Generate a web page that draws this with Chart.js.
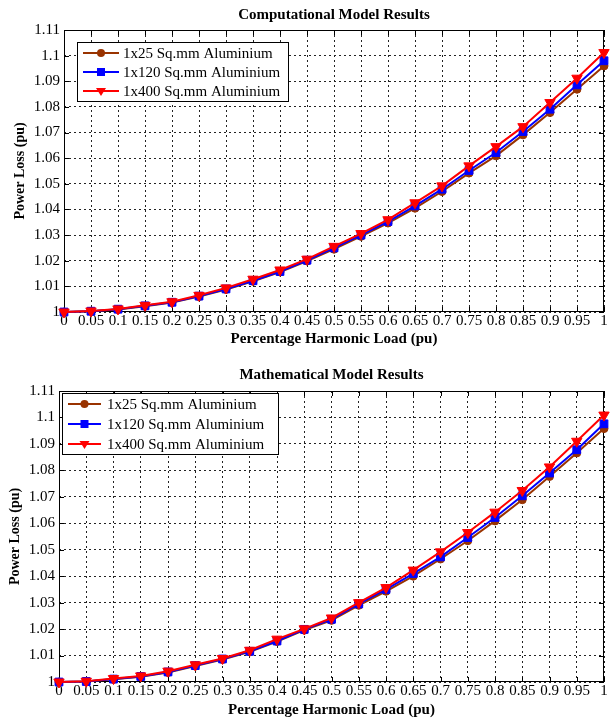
<!DOCTYPE html>
<html>
<head>
<meta charset="utf-8">
<script src="https://cdn.jsdelivr.net/npm/chart.js@4.4.0/dist/chart.umd.min.js"></script>
<style>
html, body { margin: 0; padding: 0; background: #fff; }
#wrap { position: relative; width: 611px; height: 719px; overflow: hidden; }
canvas { position: absolute; left: 0; }
</style>
</head>
<body>
<div id="wrap">
  <canvas id="compChart" width="611" height="352" style="top:0"></canvas>
  <canvas id="mathChart" width="611" height="359" style="top:360px"></canvas>
</div>
<script>
// x categories (harmonic load, pu)
const loadLabels = ['0', '0.05', '0.1', '0.15', '0.2', '0.25', '0.3', '0.35', '0.4', '0.45', '0.5',
                    '0.55', '0.6', '0.65', '0.7', '0.75', '0.8', '0.85', '0.9', '0.95', '1'];

const seriesNames = ['1x25 Sq.mm Aluminium', '1x120 Sq.mm Aluminium', '1x400 Sq.mm Aluminium'];

// Computational model results
const comp25  = [1.0000, 1.0003, 1.0010, 1.0022, 1.0037, 1.0060, 1.0088, 1.0120, 1.0156, 1.0199, 1.0245,
                 1.0295, 1.0347, 1.0405, 1.0470, 1.0542, 1.0609, 1.0691, 1.0778, 1.0869, 1.0960];
const comp120 = [1.0000, 1.0003, 1.0011, 1.0024, 1.0038, 1.0062, 1.0090, 1.0122, 1.0158, 1.0202, 1.0250,
                 1.0300, 1.0353, 1.0414, 1.0479, 1.0552, 1.0622, 1.0704, 1.0791, 1.0886, 1.0980];
const comp400 = [1.0000, 1.0004, 1.0012, 1.0026, 1.0040, 1.0065, 1.0094, 1.0128, 1.0164, 1.0206, 1.0256,
                 1.0306, 1.0360, 1.0426, 1.0492, 1.0570, 1.0645, 1.0723, 1.0817, 1.0912, 1.1012];

// Mathematical model results
const math25  = [1.0000, 1.0002, 1.0010, 1.0020, 1.0036, 1.0060, 1.0085, 1.0114, 1.0153, 1.0196, 1.0233,
                 1.0290, 1.0343, 1.0400, 1.0465, 1.0534, 1.0609, 1.0689, 1.0777, 1.0866, 1.0958];
const math120 = [1.0000, 1.0002, 1.0011, 1.0021, 1.0038, 1.0062, 1.0087, 1.0116, 1.0155, 1.0199, 1.0237,
                 1.0295, 1.0350, 1.0410, 1.0473, 1.0546, 1.0622, 1.0704, 1.0790, 1.0878, 1.0976];
const math400 = [1.0000, 1.0003, 1.0013, 1.0023, 1.0041, 1.0065, 1.0089, 1.0120, 1.0162, 1.0201, 1.0242,
                 1.0300, 1.0357, 1.0423, 1.0492, 1.0565, 1.0642, 1.0724, 1.0813, 1.0910, 1.1009];

const yMin = 1, yMax = 1.11, yStep = 0.01;

const FONT = "'Liberation Serif', 'Times New Roman', serif";
const colors = ['rgb(153,51,0)', 'rgb(0,0,255)', 'rgb(255,0,0)'];
const styles = ['circle', 'rect', 'triangle'];
const radii = [4, 5.5, 6];

// title, frame with inner ticks, and legend box
const decorPlugin = {
  id: 'decor',
  beforeDatasetsDraw(chart) {
    const { ctx, chartArea: a, scales } = chart;
    ctx.save();
    ctx.strokeStyle = '#000';
    ctx.lineWidth = 1;
    ctx.strokeRect(a.left + 0.5, a.top + 0.5, a.right - a.left - 1, a.bottom - a.top - 1);
    ctx.beginPath();
    scales.x.ticks.forEach((t, i) => {
      const px = Math.round(scales.x.getPixelForTick(i)) + 0.5;
      ctx.moveTo(px, a.bottom); ctx.lineTo(px, a.bottom - 5);
      ctx.moveTo(px, a.top); ctx.lineTo(px, a.top + 5);
    });
    scales.y.ticks.forEach(t => {
      const py = Math.round(scales.y.getPixelForValue(t.value)) + 0.5;
      ctx.moveTo(a.left, py); ctx.lineTo(a.left + 5, py);
      ctx.moveTo(a.right, py); ctx.lineTo(a.right - 5, py);
    });
    ctx.stroke();
    ctx.restore();
  },
  afterDatasetsDraw(chart, args, o) {
    const { ctx, chartArea: a } = chart;
    ctx.save();
    // chart title
    ctx.fillStyle = '#000';
    ctx.font = 'bold 15px ' + FONT;
    ctx.textAlign = 'center';
    ctx.textBaseline = 'middle';
    ctx.fillText(o.title, (a.left + a.right) / 2, a.top - o.titleGap);

    // legend
    const bx = a.left + o.lx, by = a.top + o.ly;
    ctx.fillStyle = '#fff';
    ctx.fillRect(bx, by, o.lw, o.lh);
    ctx.strokeStyle = '#000';
    ctx.lineWidth = 1;
    ctx.strokeRect(bx + 0.5, by + 0.5, o.lw, o.lh);
    chart.data.datasets.forEach((ds, i) => {
      const y = by + o.rowTop + i * o.rowGap;
      const x0 = bx + o.lineStart, x1 = x0 + o.lineLen, xm = (x0 + x1) / 2;
      ctx.strokeStyle = ds.borderColor;
      ctx.fillStyle = ds.borderColor;
      ctx.lineWidth = 2;
      ctx.beginPath(); ctx.moveTo(x0, y); ctx.lineTo(x1, y); ctx.stroke();
      ctx.beginPath();
      if (ds.pointStyle === 'circle') {
        ctx.arc(xm, y, 4, 0, Math.PI * 2);
      } else if (ds.pointStyle === 'rect') {
        ctx.rect(xm - 4, y - 4, 8, 8);
      } else {
        ctx.moveTo(xm - 5, y - 3); ctx.lineTo(xm + 5, y - 3); ctx.lineTo(xm, y + 5); ctx.closePath();
      }
      ctx.fill();
      ctx.fillStyle = '#000';
      ctx.font = '15px ' + FONT;
      ctx.textAlign = 'left';
      ctx.textBaseline = 'middle';
      ctx.fillText(ds.label, x1 + o.textGap, y + 1);
    });
    ctx.restore();
  }
};

function buildChart(id, series, lay) {
  const datasets = series.map((vals, i) => ({
    label: seriesNames[i],
    data: vals,
    borderColor: colors[i],
    backgroundColor: colors[i],
    borderWidth: 2,
    pointStyle: styles[i],
    pointRadius: radii[i],
    pointRotation: i === 2 ? 180 : 0,
    pointBorderWidth: 1,
    order: 3 - i,
    clip: false,
    tension: 0
  }));

  return new Chart(document.getElementById(id), {
    type: 'line',
    data: { labels: loadLabels, datasets: datasets },
    options: {
      responsive: false,
      animation: false,
      layout: { padding: { top: lay.top, right: lay.right, left: 0, bottom: 0 } },
      plugins: {
        legend: { display: false },
        tooltip: { enabled: false },
        decor: lay.decor
      },
      scales: {
        x: {
          type: 'category',
          offset: false,
          afterFit: s => { s.height = lay.xh; },
          grid: { color: '#222', lineWidth: 1, drawTicks: false },
          border: { display: false, dash: [2, 3] },
          ticks: { color: '#000', autoSkip: false, maxRotation: 0, padding: lay.xPad,
                   font: { family: FONT, size: 15 } },
          title: { display: true, text: 'Percentage Harmonic Load (pu)', color: '#000',
                   font: { family: FONT, size: 15, weight: 'bold' },
                   padding: { top: 0, bottom: lay.xTitlePad } }
        },
        y: {
          min: yMin, max: yMax,
          afterFit: s => { s.width = lay.yw; },
          grid: { color: '#222', lineWidth: 1, drawTicks: false },
          border: { display: false, dash: [2, 3] },
          ticks: { color: '#000', stepSize: yStep, padding: 4,
                   font: { family: FONT, size: 15 },
                   callback: v => String(Number(v.toFixed(2))) },
          title: { display: true, text: 'Power Loss (pu)', color: '#000',
                   font: { family: FONT, size: 14, weight: 'bold' },
                   padding: { top: lay.yTitlePad, bottom: 0 } }
        }
      }
    },
    plugins: [decorPlugin]
  });
}

buildChart('compChart', [comp25, comp120, comp400], {
  top: 30, right: 7, xh: 40, yw: 64, xPad: 0, xTitlePad: 4, yTitlePad: 12,
  decor: { title: 'Computational Model Results', titleGap: 15,
           lx: 13, ly: 12, lw: 211, lh: 59, rowTop: 11, rowGap: 19,
           lineStart: 6, lineLen: 36, textGap: 4 }
});

buildChart('mathChart', [math25, math120, math400], {
  top: 31, right: 1, xh: 37, yw: 59, xPad: 0, xTitlePad: 0, yTitlePad: 7,
  decor: { title: 'Mathematical Model Results', titleGap: 16,
           lx: 3, ly: 2, lw: 216, lh: 61, rowTop: 11, rowGap: 20,
           lineStart: 6, lineLen: 33, textGap: 6 }
});
</script>
</body>
</html>
